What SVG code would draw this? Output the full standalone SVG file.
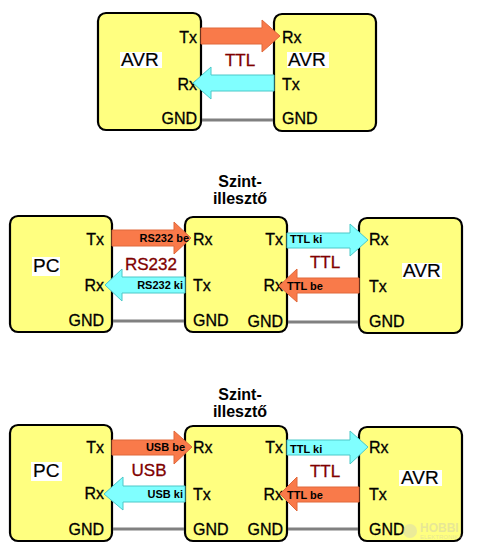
<svg xmlns="http://www.w3.org/2000/svg" width="487" height="554" viewBox="0 0 487 554">
<style>
.box{fill:#FFFF80;stroke:#000;stroke-width:2.2}
.lbl{font-family:"Liberation Sans",Arial,sans-serif;font-size:16px;fill:#000;stroke:#000;stroke-width:0.3}
.big{font-family:"Liberation Sans",Arial,sans-serif;font-size:19px;fill:#000;stroke:#000;stroke-width:0.2}
.bg{fill:#fff}
.bus{font-family:"Liberation Sans",Arial,sans-serif;font-size:17px;fill:#800000;stroke:#800000;stroke-width:0.3}
.sm{font-family:"Liberation Sans",Arial,sans-serif;font-size:11px;font-weight:bold;fill:#000}
.ttl{font-family:"Liberation Sans",Arial,sans-serif;font-size:16px;font-weight:bold;fill:#000;text-anchor:middle}
.or{fill:#F97A4A;stroke:#E0683A;stroke-width:1}
.cy{fill:#80FFFF;stroke:#4CC8C8;stroke-width:1}
.gnd{stroke:#808080;stroke-width:3;fill:none}
.e{text-anchor:end}
.m{text-anchor:middle}
</style>
<rect width="487" height="554" fill="#fff"/>

<g id="avr-top-left">
  <rect class="box" x="98" y="13" width="103" height="117" rx="8"/>
  <rect class="bg" x="120" y="52" width="42" height="16"/>
  <text class="big" x="121" y="66">AVR</text>
  <text class="lbl e" x="197" y="43">Tx</text>
  <text class="lbl e" x="197" y="90">Rx</text>
  <text class="lbl e" x="197" y="124">GND</text>
</g>
<g id="avr-top-right">
  <rect class="box" x="274" y="14" width="102" height="117" rx="8"/>
  <rect class="bg" x="287" y="52" width="42" height="16"/>
  <text class="big" x="288" y="66">AVR</text>
  <text class="lbl" x="282" y="43">Rx</text>
  <text class="lbl" x="282" y="90">Tx</text>
  <text class="lbl" x="282" y="124">GND</text>
</g>

<g id="pc-1">
  <rect class="box" x="10" y="216" width="102" height="116" rx="8"/>
  <rect class="bg" x="32" y="257" width="28" height="19"/>
  <text class="big" x="33" y="272">PC</text>
  <text class="lbl e" x="104" y="245">Tx</text>
  <text class="lbl e" x="104" y="291">Rx</text>
  <text class="lbl e" x="104" y="326">GND</text>
</g>
<g id="szint-1">
  <rect class="box" x="185" y="217" width="102" height="115" rx="8"/>
  <text class="lbl" x="193" y="245">Rx</text>
  <text class="lbl" x="193" y="291">Tx</text>
  <text class="lbl" x="193" y="326">GND</text>
  <text class="lbl e" x="283" y="245">Tx</text>
  <text class="lbl e" x="283" y="291">Rx</text>
  <text class="lbl e" x="283" y="327">GND</text>
</g>
<g id="avr-1">
  <rect class="box" x="359" y="218" width="103" height="115" rx="8"/>
  <rect class="bg" x="402" y="263" width="40" height="16"/>
  <text class="big" x="403" y="277">AVR</text>
  <text class="lbl" x="369" y="245">Rx</text>
  <text class="lbl" x="369" y="292">Tx</text>
  <text class="lbl" x="369" y="327">GND</text>
</g>

<g id="pc-2">
  <rect class="box" x="10" y="425" width="102" height="116" rx="8"/>
  <rect class="bg" x="31" y="462" width="31" height="19"/>
  <text class="big" x="33" y="477">PC</text>
  <text class="lbl e" x="104" y="453">Tx</text>
  <text class="lbl e" x="104" y="499">Rx</text>
  <text class="lbl e" x="104" y="535">GND</text>
</g>
<g id="szint-2">
  <rect class="box" x="185" y="426" width="102" height="115" rx="8"/>
  <text class="lbl" x="193" y="453">Rx</text>
  <text class="lbl" x="193" y="500">Tx</text>
  <text class="lbl" x="193" y="535">GND</text>
  <text class="lbl e" x="283" y="453">Tx</text>
  <text class="lbl e" x="283" y="500">Rx</text>
  <text class="lbl e" x="283" y="535">GND</text>
</g>
<g id="avr-2">
  <rect class="box" x="359" y="427" width="103" height="114" rx="8"/>
  <rect class="bg" x="399" y="470" width="43" height="16"/>
  <text class="big" x="401" y="484">AVR</text>
  <text class="lbl" x="369" y="453">Rx</text>
  <text class="lbl" x="369" y="500">Tx</text>
  <text class="lbl" x="369" y="535">GND</text>
</g>

<g id="connectors">
  <polygon class="or" points="201,28 262,28 262,20 280,36 262,52 262,44 201,44"/>
  <polygon class="cy" points="274,75 211,75 211,67 193,83 211,99 211,91 274,91"/>
  <line class="gnd" x1="202" y1="120" x2="273" y2="120"/>
  <polygon class="or" points="112,230 174,230 174,222 191,238 174,254 174,246 112,246"/>
  <polygon class="cy" points="185,277 122,277 122,269 105,285 122,301 122,293 185,293"/>
  <polygon class="cy" points="287,233 350,233 350,224 368,240 350,256 350,248 287,248"/>
  <polygon class="or" points="359,278 297,278 297,269 279,286 297,302 297,293 359,293"/>
  <line class="gnd" x1="113" y1="321" x2="184" y2="321"/>
  <line class="gnd" x1="288" y1="322" x2="358" y2="322"/>
  <polygon class="or" points="112,440 174,440 174,431 192,447 174,464 174,455 112,455"/>
  <polygon class="cy" points="185,486 123,486 123,477 104,494 123,510 123,502 185,502"/>
  <polygon class="cy" points="287,440 350,440 350,431 368,447 350,464 350,455 287,455"/>
  <polygon class="or" points="359,487 297,487 297,477 280,494 297,511 297,502 359,502"/>
  <line class="gnd" x1="113" y1="529" x2="184" y2="529"/>
  <line class="gnd" x1="288" y1="529" x2="358" y2="529"/>
</g>

<g id="labels">
  <text class="bus m" x="240" y="66">TTL</text>
  <text class="sm e" x="189" y="242">RS232 be</text>
  <text class="sm e" x="183" y="289">RS232 ki</text>
  <text class="bus m" x="151" y="270">RS232</text>
  <text class="sm" x="290" y="243">TTL ki</text>
  <text class="sm" x="287" y="290">TTL be</text>
  <text class="bus m" x="325" y="268">TTL</text>
  <text class="ttl" x="240" y="187">Szint-</text>
  <text class="ttl" x="240" y="204">illesztő</text>
  <text class="sm e" x="185" y="451">USB be</text>
  <text class="sm e" x="183" y="498">USB ki</text>
  <text class="bus m" x="149" y="476">USB</text>
  <text class="sm" x="290" y="453">TTL ki</text>
  <text class="sm" x="287" y="499">TTL be</text>
  <text class="bus m" x="325" y="477">TTL</text>
  <text class="ttl" x="240" y="400">Szint-</text>
  <text class="ttl" x="240" y="417">illesztő</text>
</g>

<g id="watermark" opacity="0.35">
  <circle cx="410" cy="531" r="7" fill="#c8c8c8"/>
  <text x="420" y="532" font-family="'Liberation Sans',Arial,sans-serif" font-size="12" font-weight="bold" fill="#bdbdbd">HOBBI</text>
  <text x="420" y="539" font-family="'Liberation Sans',Arial,sans-serif" font-size="6" fill="#bdbdbd">ELEKTRONIKA</text>
</g>
</svg>
